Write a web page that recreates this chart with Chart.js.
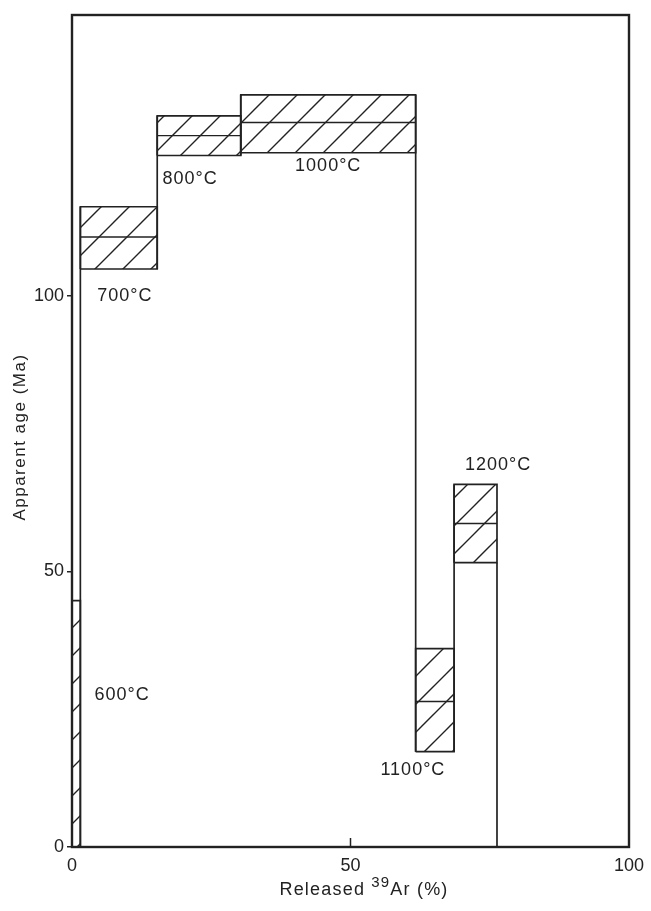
<!DOCTYPE html>
<html>
<head>
<meta charset="utf-8">
<script src="https://cdn.jsdelivr.net/npm/chart.js@4/dist/chart.umd.min.js"></script>
<style>
  html, body { margin: 0; padding: 0; background: #fff; }
  #wrap { width: 651px; height: 911px; }
</style>
</head>
<body>
<div id="wrap"><canvas id="spectrum"></canvas></div>
<script>
// heating steps of the 39Ar release spectrum
const temps = ['600°C', '700°C', '800°C', '1000°C', '1100°C', '1200°C'];
const releaseStart = [0, 1.5, 15.3, 30.3, 61.7, 68.6];
const releaseEnd = [1.5, 15.3, 30.3, 61.7, 68.6, 76.3];
const ageLow = [0, 104.9, 125.5, 126.0, 17.3, 51.6];
const ageHigh = [44.7, 116.2, 132.7, 136.5, 36.0, 65.8];
const ageMean = [null, 110.7, 129.1, 131.5, 26.4, 58.7];

const xTicks = [0, 50, 100];
const yTicks = [0, 50, 100];

// where each temperature label sits (data units)
const labelX = [9.0, 9.5, 21.2, 46.0, 61.2, 76.5];
const labelY = [27.6, 100, 121.3, 123.5, 14.0, 69.3];

const ink = '#222';
const font = '"Liberation Sans", Arial, sans-serif';

// diagonal hatching
function makeHatch() {
    const size = 28;
    const c = document.createElement('canvas');
    c.width = size; c.height = size;
    const g = c.getContext('2d');
    g.strokeStyle = ink;
    g.lineWidth = 1.4;
    g.beginPath();
    g.moveTo(0, size); g.lineTo(size, 0);
    g.moveTo(-4, 4); g.lineTo(4, -4);
    g.moveTo(size - 4, size + 4); g.lineTo(size + 4, size - 4);
    g.stroke();
    return g.createPattern(c, 'repeat');
}
const hatch = makeHatch();

const datasets = [];

temps.forEach((t, i) => {
    const s = releaseStart[i], e = releaseEnd[i];
    datasets.push({
        label: t,
        data: [
            { x: s, y: ageLow[i] }, { x: e, y: ageLow[i] },
            { x: e, y: ageHigh[i] }, { x: s, y: ageHigh[i] },
            { x: s, y: ageLow[i] }
        ],
        showLine: true,
        fill: 'shape',
        backgroundColor: hatch,
        borderColor: ink,
        borderWidth: 1.7,
        pointRadius: 0
    });
    if (ageMean[i] !== null) {
        datasets.push({
            label: t + ' mean',
            data: [{ x: s, y: ageMean[i] }, { x: e, y: ageMean[i] }],
            showLine: true,
            borderColor: ink,
            borderWidth: 1.4,
            pointRadius: 0
        });
    }
});

// vertical joins between neighbouring steps, and the drop back to zero
for (let i = 0; i < temps.length; i++) {
    const x = releaseEnd[i];
    let lo, hi;
    if (i < temps.length - 1) {
        lo = Math.min(ageLow[i], ageLow[i + 1]);
        hi = Math.max(ageHigh[i], ageHigh[i + 1]);
    } else {
        lo = 0;
        hi = ageLow[i];
    }
    datasets.push({
        label: 'join ' + i,
        data: [{ x: x, y: lo }, { x: x, y: hi }],
        showLine: true,
        borderColor: ink,
        borderWidth: 1.7,
        pointRadius: 0
    });
}

const decorations = {
    id: 'decorations',
    afterDatasetsDraw(chart) {
        const { ctx, chartArea: a, scales } = chart;
        ctx.save();
        // frame
        ctx.strokeStyle = ink;
        ctx.lineWidth = 2.4;
        ctx.strokeRect(a.left, a.top, a.right - a.left, a.bottom - a.top);
        // inward tick on x axis
        ctx.lineWidth = 1.5;
        xTicks.forEach(v => {
            if (v === 0 || v === 100) return;
            const px = scales.x.getPixelForValue(v);
            ctx.beginPath();
            ctx.moveTo(px, a.bottom);
            ctx.lineTo(px, a.bottom - 9);
            ctx.stroke();
        });
        // temperature labels
        ctx.fillStyle = ink;
        ctx.font = '18px ' + font;
        ctx.letterSpacing = '1px';
        ctx.textAlign = 'center';
        ctx.textBaseline = 'middle';
        temps.forEach((t, i) => {
            ctx.fillText(t, scales.x.getPixelForValue(labelX[i]), scales.y.getPixelForValue(labelY[i]));
        });
        // y title
        ctx.save();
        ctx.translate(20, 437);
        ctx.rotate(-Math.PI / 2);
        ctx.font = '17px ' + font;
        ctx.letterSpacing = '1.5px';
        ctx.fillText('Apparent age (Ma)', 0, 0);
        ctx.restore();
        // x title with superscript 39
        ctx.letterSpacing = '1.2px';
        ctx.textBaseline = 'alphabetic';
        const parts = [['Released ', 18, 0], ['39', 15, -8], ['Ar (%)', 18, 0]];
        let total = 0;
        parts.forEach(p => { ctx.font = p[1] + 'px ' + font; total += ctx.measureText(p[0]).width; });
        let x = 364 - total / 2;
        ctx.textAlign = 'left';
        parts.forEach(p => {
            ctx.font = p[1] + 'px ' + font;
            ctx.fillText(p[0], x, 895 + p[2]);
            x += ctx.measureText(p[0]).width;
        });
        ctx.restore();
    }
};

new Chart(document.getElementById('spectrum'), {
    type: 'scatter',
    data: { datasets: datasets },
    options: {
        responsive: true,
        maintainAspectRatio: false,
        animation: false,
        layout: { padding: { top: 15, right: 22, left: 0, bottom: 0 } },
        scales: {
            x: {
                type: 'linear',
                min: 0,
                max: 100,
                afterFit: s => { s.height = 64; },
                afterBuildTicks: s => { s.ticks = xTicks.map(v => ({ value: v })); },
                ticks: {
                    color: ink,
                    padding: 0,
                    font: { family: font, size: 18 }
                },
                grid: { display: false },
                border: { display: false }
            },
            y: {
                type: 'linear',
                min: 0,
                max: 151,
                afterFit: s => { s.width = 72; },
                afterBuildTicks: s => { s.ticks = yTicks.map(v => ({ value: v })); },
                ticks: {
                    color: ink,
                    padding: 3,
                    font: { family: font, size: 18 }
                },
                grid: {
                    drawOnChartArea: false,
                    tickLength: 5,
                    color: ink,
                    lineWidth: 1.5
                },
                border: { display: false }
            }
        },
        plugins: {
            legend: { display: false },
            tooltip: { enabled: false }
        }
    },
    plugins: [decorations]
});
</script>
</body>
</html>
